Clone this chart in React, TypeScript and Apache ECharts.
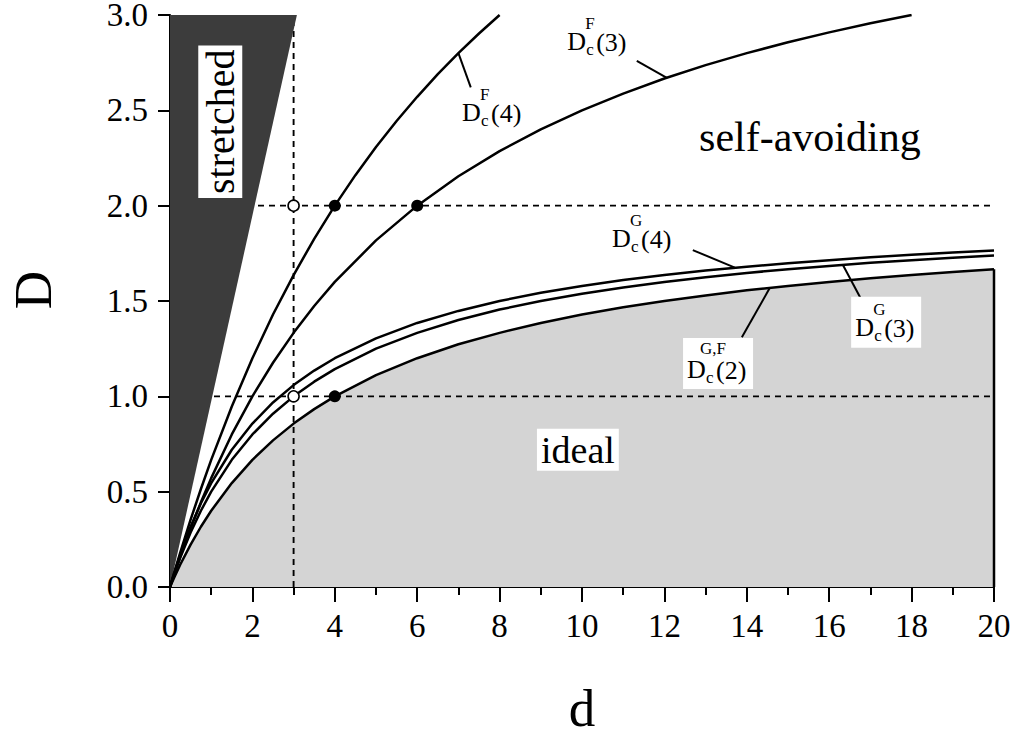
import React, { useEffect, useRef } from "react";
import * as echarts from "echarts";

const FONT = '"Liberation Serif", "Times New Roman", Times, serif';

// embedding dimension d (x) grid and the read-off boundary curves D(d)
const dGrid = [0, 0.1, 0.25, 0.5, 0.75, 1, 1.5, 2, 2.5, 3, 3.5, 4, 5, 6, 7, 8, 9, 10, 11, 12, 13, 14, 15, 16, 17, 18, 19, 20];
const idealG2 = [0, 0.049, 0.118, 0.222, 0.316, 0.4, 0.545, 0.667, 0.769, 0.857, 0.933, 1.0, 1.111, 1.2, 1.273, 1.333, 1.385, 1.429, 1.467, 1.5, 1.529, 1.556, 1.579, 1.6, 1.619, 1.636, 1.652, 1.667];
const gauss3 = [0, 0.065, 0.154, 0.286, 0.4, 0.5, 0.667, 0.8, 0.909, 1.0, 1.077, 1.143, 1.25, 1.333, 1.4, 1.455, 1.5, 1.538, 1.571, 1.6, 1.625, 1.647, 1.667, 1.684, 1.7, 1.714, 1.727, 1.739];
const gauss4 = [0, 0.072, 0.171, 0.316, 0.439, 0.545, 0.72, 0.857, 0.968, 1.059, 1.135, 1.2, 1.304, 1.385, 1.448, 1.5, 1.543, 1.579, 1.61, 1.636, 1.66, 1.68, 1.698, 1.714, 1.729, 1.742, 1.754, 1.765];

const dFlory3 = [0, 0.1, 0.25, 0.5, 0.75, 1, 1.5, 2, 2.5, 3, 3.5, 4, 5, 6, 7, 8, 9, 10, 11, 12, 13, 14, 15, 16, 17, 18];
const flory3 = [0, 0.066, 0.16, 0.308, 0.444, 0.571, 0.8, 1.0, 1.176, 1.333, 1.474, 1.6, 1.818, 2.0, 2.154, 2.286, 2.4, 2.5, 2.588, 2.667, 2.737, 2.8, 2.857, 2.909, 2.957, 3.0];

const dFlory4 = [0, 0.1, 0.25, 0.5, 0.75, 1, 1.5, 2, 2.5, 3, 3.5, 4, 4.5, 5, 5.5, 6, 6.5, 7, 7.5, 8];
const flory4 = [0, 0.074, 0.182, 0.353, 0.514, 0.667, 0.947, 1.2, 1.429, 1.636, 1.826, 2.0, 2.16, 2.308, 2.444, 2.571, 2.69, 2.8, 2.903, 3.0];

// stretched wedge vertices
const stretchedD = [0, 3.08, 0];
const stretchedY = [0, 3, 3];

// reference guides
const guideLevels = [1, 2];
const guideD = 3;

// marked points
const openPoints = [[3, 2], [3, 1]];
const filledPoints = [[4, 2], [6, 2], [4, 1]];

// axis ticks
const xTicks = [0, 2, 4, 6, 8, 10, 12, 14, 16, 18, 20];
const yTicks = [0, 0.5, 1, 1.5, 2, 2.5, 3];

// curve labels: [anchor d, anchor D], superscript, argument, pointer from -> to
const curveLabels = [
  { sup: "F", arg: "(4)", at: [7.09, 2.49], from: [7.3, 2.62], to: [7.0, 2.8], bg: false, supDx: 18, supDy: -18 },
  { sup: "F", arg: "(3)", at: [9.64, 2.86], from: [11.33, 2.76], to: [12.06, 2.67], bg: false, supDx: 18, supDy: -18 },
  { sup: "G", arg: "(4)", at: [10.73, 1.83], from: [12.69, 1.767], to: [13.71, 1.675], bg: false, supDx: 18, supDy: -18 },
  { sup: "G", arg: "(3)", at: [16.63, 1.36], from: [16.33, 1.69], to: [16.75, 1.52], bg: true, supDx: 18, supDy: -18 },
  { sup: "G,F", arg: "(2)", at: [12.55, 1.143], from: [14.56, 1.569], to: [13.88, 1.31], bg: true, supDx: 13, supDy: -21 },
];

const regionLabels = [
  { text: "self-avoiding", at: [15.53, 2.36], size: 42, rotate: false, bg: false },
  { text: "ideal", at: [9.9, 0.72], size: 38, rotate: false, bg: true },
  { text: "stretched", at: [1.22, 2.44], size: 40, rotate: true, bg: true },
];

const pair = (xs: number[], ys: number[]) => xs.map((x, i) => [x, ys[i]]);

export default function App() {
  const ref = useRef<HTMLDivElement>(null);

  useEffect(() => {
    const chart = echarts.init(ref.current!, null, { renderer: "svg" });

    const curve = (data: number[][], z = 5) => ({
      type: "line",
      data,
      symbol: "none",
      silent: true,
      z,
      lineStyle: { color: "#000", width: 2.5 },
    });
    const dashed = (data: number[][]) => ({
      type: "line",
      data,
      symbol: "none",
      silent: true,
      z: 3,
      lineStyle: { color: "#000", width: 1.9, type: [6, 5] },
    });

    const triangle = pair(stretchedD, stretchedY);

    const series: any[] = [
      {
        type: "line",
        data: pair(dGrid, idealG2),
        symbol: "none",
        silent: true,
        z: 2,
        lineStyle: { color: "#000", width: 2.5 },
        areaStyle: { color: "#d4d4d4", opacity: 1 },
      },
      ...guideLevels.map((lv) => dashed([[0, lv], [20, lv]])),
      dashed([[guideD, 0], [guideD, 3]]),
      {
        type: "custom",
        data: triangle,
        silent: true,
        z: 4,
        renderItem: (params: any, api: any) => {
          if (params.dataIndex !== 0) return null;
          return {
            type: "polygon",
            shape: { points: triangle.map((p) => api.coord(p)) },
            style: { fill: "#3c3c3c" },
          };
        },
      },
      curve(pair(dGrid, gauss3)),
      curve(pair(dGrid, gauss4)),
      curve(pair(dFlory3, flory3)),
      curve(pair(dFlory4, flory4)),
      curve([[20, 0], [20, idealG2[idealG2.length - 1]]]),
      ...curveLabels.map((l) => ({
        type: "line",
        data: [l.from, l.to],
        symbol: "none",
        silent: true,
        z: 5,
        lineStyle: { color: "#000", width: 2 },
      })),
      {
        type: "scatter",
        data: openPoints,
        symbol: "circle",
        symbolSize: 11,
        silent: true,
        z: 6,
        itemStyle: { color: "#fff", borderColor: "#000", borderWidth: 1.6, opacity: 1 },
      },
      {
        type: "scatter",
        data: filledPoints,
        symbol: "circle",
        symbolSize: 12,
        silent: true,
        z: 6,
        itemStyle: { color: "#000", opacity: 1 },
      },
    ];

    chart.setOption({
      animation: false,
      grid: {
        left: 170,
        right: 22,
        top: 15,
        bottom: 149,
        containLabel: false,
        outerBoundsMode: "none",
      },
      xAxis: {
        type: "value",
        min: 0,
        max: 20,
        interval: 2,
        name: "d",
        nameLocation: "middle",
        nameGap: 94,
        nameTextStyle: { fontSize: 53, fontFamily: FONT, color: "#000" },
        axisLine: { show: true, lineStyle: { color: "#000", width: 2 } },
        axisTick: { show: true, inside: false, length: 15, lineStyle: { color: "#000", width: 2 } },
        minorTick: { show: true, splitNumber: 2, length: 8, lineStyle: { color: "#000", width: 2 } },
        splitLine: { show: false },
        minorSplitLine: { show: false },
        axisLabel: {
          fontSize: 33,
          lineHeight: 30,
          fontFamily: FONT,
          color: "#000",
          margin: 24,
          formatter: (v: number) => (xTicks.includes(v) ? String(v) : ""),
        },
      },
      yAxis: {
        type: "value",
        min: 0,
        max: 3,
        interval: 0.5,
        name: "D",
        nameLocation: "middle",
        nameRotate: 90,
        nameGap: 114,
        nameTextStyle: {
          fontSize: 53,
          lineHeight: 46,
          fontFamily: FONT,
          color: "#000",
          padding: [0, 0, 0, 22],
        },
        axisLine: { show: true, lineStyle: { color: "#000", width: 2 } },
        axisTick: { show: true, inside: false, length: 12, lineStyle: { color: "#000", width: 2 } },
        splitLine: { show: false },
        axisLabel: {
          fontSize: 33,
          lineHeight: 24,
          fontFamily: FONT,
          color: "#000",
          margin: 22,
          formatter: (v: number) => (yTicks.includes(v) ? v.toFixed(1) : ""),
        },
      },
      series,
    });

    const px = (p: number[]) => chart.convertToPixel({ gridIndex: 0 }, p) as number[];
    const txt = (text: string, x: number, y: number, size: number, extra: any = {}) => ({
      type: "text",
      x,
      y,
      z: 100,
      style: {
        text,
        fontSize: size,
        lineHeight: Math.round(size * 0.8),
        fontFamily: FONT,
        fill: "#000",
        align: "left",
        verticalAlign: "middle",
        ...extra,
      },
    });

    const graphics: any[] = [];
    curveLabels.forEach((l) => {
      const [x, y] = px(l.at);
      if (l.bg) {
        graphics.push({
          type: "rect",
          z: 99,
          shape: { x: x - 4, y: y - 31, width: 70, height: 51 },
          style: { fill: "#fff" },
        });
      }
      graphics.push(txt("D", x, y, 26));
      graphics.push(txt(l.sup, x + l.supDx, y + l.supDy, 17));
      graphics.push(txt("c", x + 19, y + 8, 17));
      graphics.push(txt(l.arg, x + 29, y + 1, 26));
    });
    regionLabels.forEach((r) => {
      const [x, y] = px(r.at);
      graphics.push({
        type: "text",
        x,
        y,
        z: 100,
        rotation: r.rotate ? Math.PI / 2 : 0,
        style: {
          text: r.text,
          fontSize: r.size,
          fontFamily: FONT,
          fill: "#000",
          align: "center",
          verticalAlign: "middle",
          backgroundColor: r.bg ? "#fff" : undefined,
          padding: r.bg ? [2, 4, 2, 4] : 0,
        },
      });
    });
    chart.setOption({ graphic: graphics });

    return () => chart.dispose();
  }, []);

  return (
    <div
      ref={ref}
      style={{ position: "fixed", left: 0, top: 0, width: 1016, height: 736, background: "#fff" }}
    />
  );
}
